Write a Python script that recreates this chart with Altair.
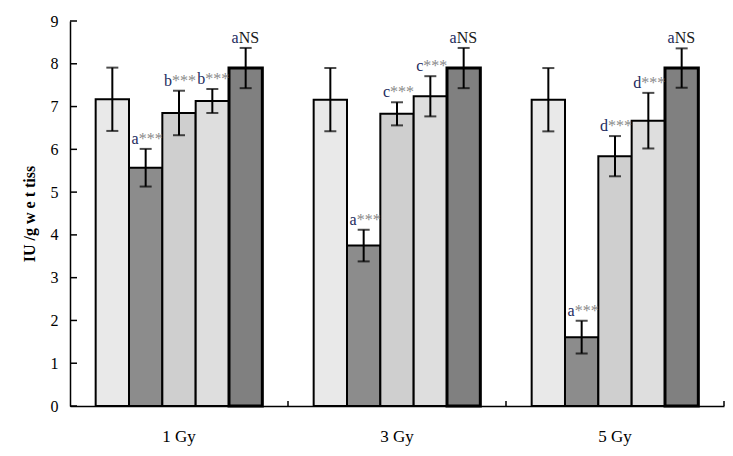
import altair as alt
import pandas as pd

groups = ["1 Gy", "3 Gy", "5 Gy"]
series = ["S1", "S2", "S3", "S4", "S5"]
means = [
    [7.17, 5.57, 6.85, 7.13, 7.90],
    [7.16, 3.75, 6.83, 7.24, 7.90],
    [7.16, 1.61, 5.84, 6.67, 7.90],
]
errs = [
    [0.74, 0.44, 0.52, 0.28, 0.47],
    [0.74, 0.37, 0.27, 0.47, 0.47],
    [0.74, 0.38, 0.47, 0.65, 0.46],
]
letters = [
    ["", "a", "b", "b", "a"],
    ["", "a", "c", "c", "a"],
    ["", "a", "d", "d", "a"],
]
suffixes = [
    ["", "***", "***", "***", "NS"],
    ["", "***", "***", "***", "NS"],
    ["", "***", "***", "***", "NS"],
]
fills = ["#e9e9e9", "#8c8c8c", "#cfcfcf", "#dedede", "#808080"]
yticks = list(range(0, 10))

rows = []
for gi, g in enumerate(groups):
    for si, s in enumerate(series):
        m = means[gi][si]
        e = errs[gi][si]
        rows.append({
            "group": g, "series": s, "mean": m, "lo": m - e, "hi": m + e,
            "letter": letters[gi][si], "suffix": suffixes[gi][si],
            "fill": fills[si], "sw": 3 if si == 4 else 2,
            "sc": "#1a1a1a" if suffixes[gi][si] == "NS" else "#8a8a8a",
        })
df = pd.DataFrame(rows)
tick_df = pd.DataFrame({"v": yticks})
grp_df = pd.DataFrame({"group": groups})

FONT = "Liberation Serif"

xenc = alt.X("group:N", sort=groups,
             scale=alt.Scale(paddingInner=0, paddingOuter=0),
             axis=alt.Axis(title=None, labelAngle=0, ticks=False, labelPadding=22,
                           labelFont=FONT, labelFontSize=17, labelColor="black",
                           domainColor="black", domainWidth=1.5))
xoff = alt.XOffset("series:N", sort=series,
                   scale=alt.Scale(paddingInner=0, paddingOuter=0.77))
yscale = alt.Scale(domain=[0, 9], nice=False)

base = alt.Chart(df)

bars = base.mark_bar(stroke="black").encode(
    x=xenc, xOffset=xoff,
    y=alt.Y("mean:Q", scale=yscale,
            axis=alt.Axis(title="IU /g  w e t  tiss", values=yticks, ticks=False,
                          labelPadding=12, labelFont=FONT, labelFontSize=16,
                          labelColor="black", titleFont=FONT, titleFontSize=16,
                          titleFontWeight="bold", titleColor="black", titlePadding=13,
                          domainColor="black", domainWidth=1.5, grid=False)),
    fill=alt.Fill("fill:N", scale=None),
    strokeWidth=alt.StrokeWidth("sw:Q", scale=None),
)

err_rule = base.mark_rule(color="black", strokeWidth=2).encode(
    x=xenc, xOffset=xoff, y=alt.Y("lo:Q", scale=yscale), y2="hi:Q")
cap_hi = base.mark_tick(color="black", thickness=2, size=12, orient="horizontal").encode(
    x=xenc, xOffset=xoff, y=alt.Y("hi:Q", scale=yscale))
cap_lo = base.mark_tick(color="black", thickness=2, size=12, orient="horizontal").encode(
    x=xenc, xOffset=xoff, y=alt.Y("lo:Q", scale=yscale))

lab_letter = base.mark_text(font=FONT, fontSize=16, align="right", baseline="alphabetic",
                            dx=-7, dy=-5, color="#1c2b5e").encode(
    x=xenc, xOffset=xoff, y=alt.Y("hi:Q", scale=yscale), text="letter:N")
lab_suffix = base.mark_text(font=FONT, fontSize=16, align="left", baseline="alphabetic",
                            dx=-7, dy=-5).encode(
    x=xenc, xOffset=xoff, y=alt.Y("hi:Q", scale=yscale), text="suffix:N",
    color=alt.Color("sc:N", scale=None))

ytick_marks = alt.Chart(tick_df).mark_rule(color="black", strokeWidth=1.5).encode(
    y=alt.Y("v:Q", scale=yscale), x=alt.value(0), x2=alt.value(7))
xtick_marks = alt.Chart(grp_df).mark_rule(color="black", strokeWidth=1.5).encode(
    x=alt.X("group:N", sort=groups, bandPosition=1), y=alt.value(385), y2=alt.value(380))

chart = alt.layer(bars, err_rule, cap_hi, cap_lo, lab_letter, lab_suffix,
                  ytick_marks, xtick_marks).properties(
    width=654, height=385,
    autosize=alt.AutoSizeParams(type="none"),
    padding={"left": 70, "top": 21, "right": 9, "bottom": 50},
    background="white",
).configure_view(stroke=None)

chart.save("out.html", embed_options={"renderer": "svg", "actions": False})
